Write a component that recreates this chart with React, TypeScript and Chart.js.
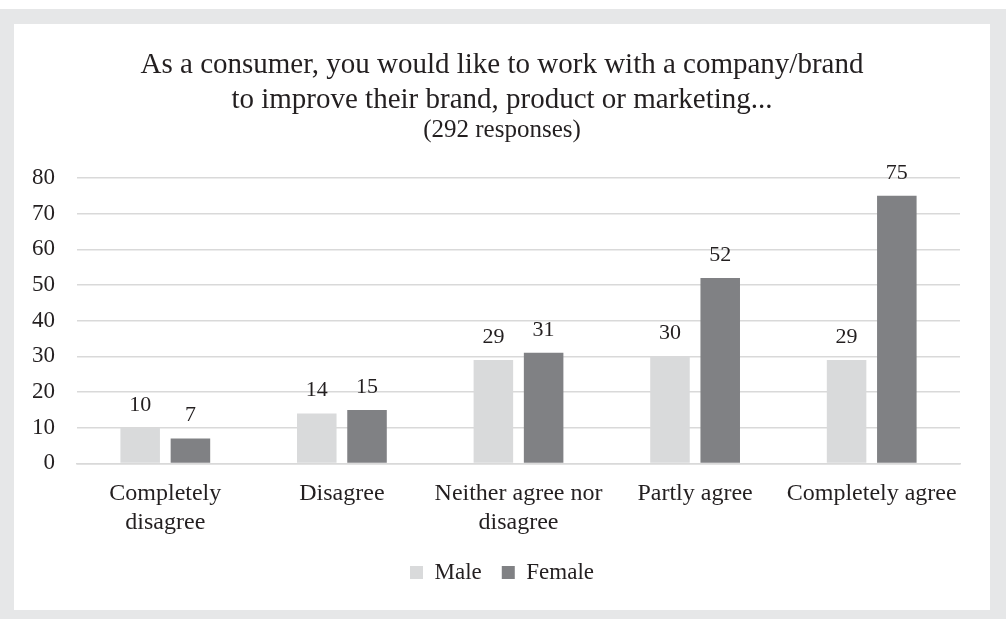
import React, { useEffect, useRef } from "react";
import { Chart, registerables } from "chart.js";

Chart.register(...registerables);

const categories: (string | string[])[] = [
  ["Completely", "disagree"],
  "Disagree",
  ["Neither agree nor", "disagree"],
  "Partly agree",
  "Completely agree",
];
const seriesNames = ["Male", "Female"];
const maleValues = [10, 14, 29, 30, 29];
const femaleValues = [7, 15, 31, 52, 75];
const titleLines = [
  "As a consumer, you would like to work with a company/brand",
  "to improve their brand, product or marketing...",
];
const subtitleText = "(292 responses)";
const yMax = 80;
const yStep = 10;

const FONT = "'Liberation Serif', 'DejaVu Serif', serif";
const TEXT = "#231f20";
const MALE = "#d9dadb";
const FEMALE = "#808184";
const GRID = "#d9d9d9";

const valueLabels = {
  id: "valueLabels",
  afterDatasetsDraw(chart: any) {
    const ctx = chart.ctx;
    ctx.save();
    ctx.font = `22px ${FONT}`;
    ctx.fillStyle = TEXT;
    ctx.textAlign = "center";
    ctx.textBaseline = "alphabetic";
    chart.data.datasets.forEach((ds: any, di: number) => {
      const meta = chart.getDatasetMeta(di);
      meta.data.forEach((bar: any, i: number) => {
        ctx.fillText(String(ds.data[i]), bar.x, bar.y - 17);
      });
    });
    ctx.restore();
  },
};

// nudge the legend a little towards the category labels, as in the reference
const legendShift = {
  id: "legendShift",
  afterLayout(chart: any) {
    const lg = chart.legend;
    if (lg) {
      lg.top -= 12;
      lg.bottom -= 12;
    }
  },
};

export default function App() {
  const ref = useRef<HTMLCanvasElement>(null);
  useEffect(() => {
    if (!ref.current) return;
    const chart = new Chart(ref.current, {
      type: "bar",
      data: {
        labels: categories,
        datasets: [
          {
            label: seriesNames[0],
            data: maleValues,
            backgroundColor: MALE,
            categoryPercentage: 0.569,
            barPercentage: 0.787,
            yAxisID: "y",
          },
          {
            label: seriesNames[1],
            data: femaleValues,
            backgroundColor: FEMALE,
            categoryPercentage: 0.569,
            barPercentage: 0.787,
            yAxisID: "y",
          },
        ],
      },
      options: {
        animation: false,
        responsive: false,
        maintainAspectRatio: false,
        layout: { padding: { left: 0, right: 0, top: 0, bottom: 4 } },
        plugins: {
          title: {
            display: true,
            text: titleLines,
            color: TEXT,
            font: { family: FONT, size: 29, weight: "normal", lineHeight: 1.207 },
            padding: { top: 23.5, bottom: 0 },
          },
          subtitle: {
            display: true,
            text: subtitleText,
            color: TEXT,
            font: { family: FONT, size: 25, weight: "normal", lineHeight: 1.0 },
            padding: { top: 0, bottom: 35.5 },
          },
          legend: {
            display: true,
            position: "bottom",
            labels: {
              color: TEXT,
              font: { family: FONT, size: 23 },
              boxWidth: 13,
              boxHeight: 13,
              padding: 20,
              useBorderRadius: false,
            },
          },
          tooltip: { enabled: false },
        },
        scales: {
          x: {
            grid: { display: false, drawTicks: false },
            border: { display: true, color: GRID, width: 1.5 },
            ticks: {
              color: TEXT,
              font: { family: FONT, size: 24, lineHeight: 1.2 },
              padding: 16,
              maxRotation: 0,
              autoSkip: false,
            },
          },
          y: {
            min: 0,
            max: yMax,
            afterFit: (s: any) => {
              s.width = 63;
            },
            grid: { color: GRID, lineWidth: 1.5, drawTicks: false },
            border: { display: false },
            ticks: {
              stepSize: yStep,
              color: TEXT,
              font: { family: FONT, size: 23 },
              padding: 22,
            },
          },
          yRight: {
            position: "right",
            min: 0,
            max: yMax,
            afterFit: (s: any) => {
              s.width = 30;
            },
            grid: { display: false, drawTicks: false },
            border: { display: false },
            ticks: { display: false },
          },
        },
      },
      plugins: [valueLabels, legendShift],
    });
    return () => chart.destroy();
  }, []);

  return (
    <div
      style={{
        position: "fixed",
        left: 0,
        top: 0,
        width: 1006,
        height: 619,
        background: "#ffffff",
      }}
    >
      <div
        style={{
          position: "absolute",
          left: 0,
          top: 9,
          width: 1006,
          height: 610,
          background: "#e6e7e8",
        }}
      >
        <div
          style={{
            position: "absolute",
            left: 14,
            top: 15,
            width: 976,
            height: 586,
            background: "#ffffff",
          }}
        >
          <canvas ref={ref} width={976} height={586} style={{ display: "block" }} />
        </div>
      </div>
    </div>
  );
}
